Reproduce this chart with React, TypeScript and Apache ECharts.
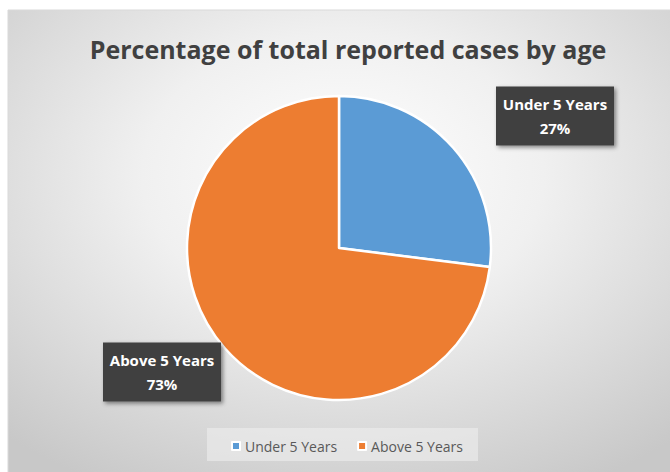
import React, { useEffect, useRef } from "react";
import * as echarts from "echarts";

const categories = ["Under 5 Years", "Above 5 Years"];
const values = [27, 73];
const colors = ["#5B9BD5", "#ED7D31"];
const titleText = "Percentage of total reported cases by age";

export default function App() {
  const ref = useRef<HTMLDivElement>(null);
  useEffect(() => {
    if (!ref.current) return;
    const chart = echarts.init(ref.current, undefined, { renderer: "svg" });
    const labelPos = [
      { x: 555, y: 116 },
      { x: 162, y: 372 },
    ];
    chart.setOption({
      animation: false,
      backgroundColor: "#ffffff",
      graphic: [
        {
          type: "rect",
          z: -10,
          silent: true,
          shape: { x: 8, y: 10, width: 670, height: 470 },
          style: {
            fill: new echarts.graphic.RadialGradient(0.5, 0.35, 0.75, [
              { offset: 0, color: "#ffffff" },
              { offset: 0.4, color: "#f0f0f0" },
              { offset: 1, color: "#c8c8c8" },
            ]),
            stroke: "#d9d9d9",
            lineWidth: 1,
          },
        },
        {
          type: "rect",
          z: -5,
          silent: true,
          shape: { x: 207, y: 428, width: 271, height: 33 },
          style: { fill: "rgba(240,240,240,0.55)" },
        },
      ],
      title: {
        text: titleText,
        left: 343,
        top: 31,
        textAlign: "center",
        textStyle: {
          fontFamily: "Open Sans",
          fontWeight: "bold",
          fontSize: 25,
          color: "#404040",
        },
      },
      legend: {
        data: categories,
        bottom: 14,
        left: 226,
        icon: "rect",
        itemWidth: 8,
        itemHeight: 8,
        itemGap: 20,
        textStyle: {
          fontFamily: "Open Sans",
          fontSize: 14,
          color: "#595959",
        },
      },
      series: [
        {
          type: "pie",
          center: [339, 248],
          radius: 152,
          startAngle: 90,
          clockwise: true,
          data: categories.map((c, i) => ({
            name: c,
            value: values[i],
            itemStyle: { color: colors[i] },
          })),
          itemStyle: { borderColor: "#ffffff", borderWidth: 2.5 },
          labelLine: { show: false },
          label: {
            show: true,
            position: "outside",
            formatter: "{b}\n{d}%",
            color: "#ffffff",
            fontFamily: "Open Sans",
            fontWeight: "bold",
            fontSize: 15,
            lineHeight: 24,
            backgroundColor: "#404040",
            width: 106,
            align: "center",
            padding: [5, 6, 6, 6],
            shadowBlur: 4,
            shadowColor: "rgba(0,0,0,0.45)",
            shadowOffsetX: 2,
            shadowOffsetY: 2,
          },
          labelLayout: (params: any) => {
            const p = labelPos[params.dataIndex];
            return { x: p.x, y: p.y, align: "center", verticalAlign: "middle" };
          },
        },
      ],
    });
    return () => chart.dispose();
  }, []);
  return (
    <div
      ref={ref}
      style={{ position: "fixed", left: 0, top: 0, width: 670, height: 472 }}
    />
  );
}
